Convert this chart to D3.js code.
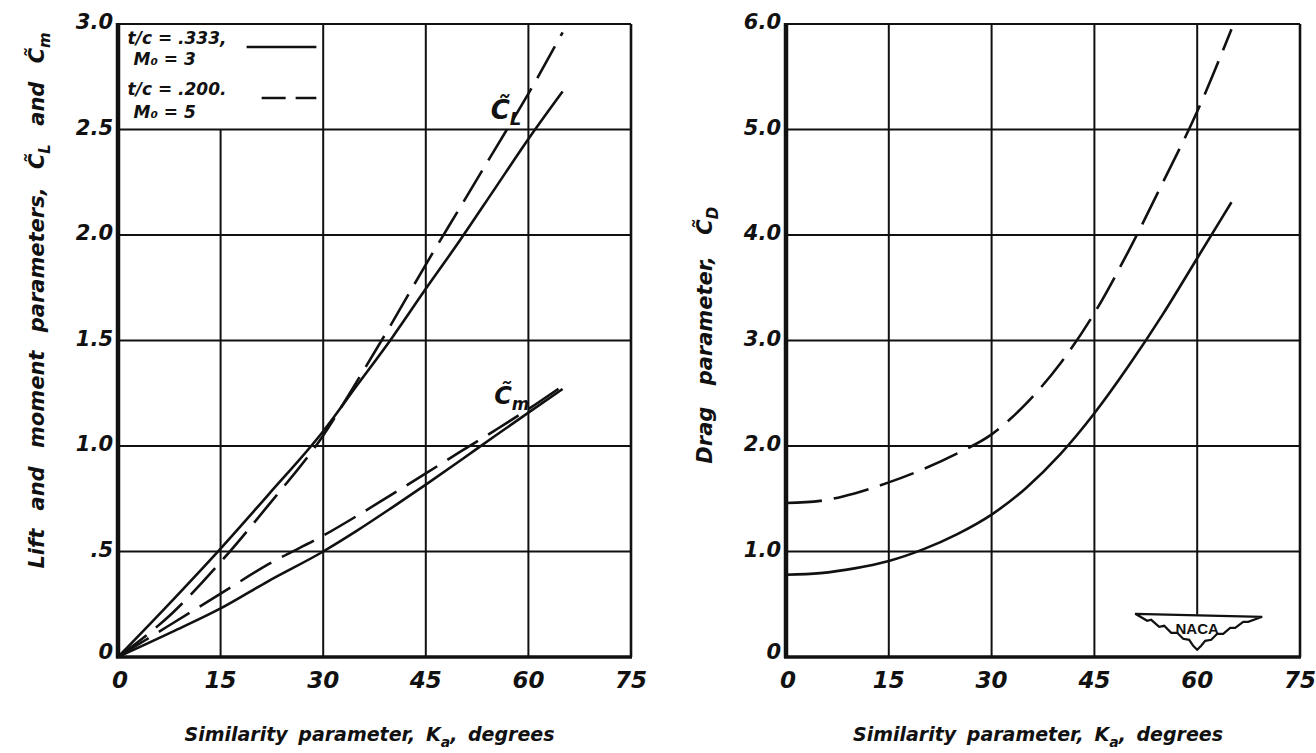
<!DOCTYPE html>
<html>
<head>
<meta charset="utf-8">
<script src="https://cdn.jsdelivr.net/npm/d3@7"></script>
<style>
  body { margin: 0; background: #fff; }
  text { font-family: "DejaVu Sans", sans-serif; font-style: italic; font-weight: bold; fill: #111; }
</style>
</head>
<body>
<div id="container"></div>
<script>
/* CONSTANTS AND GLOBALS */
const width = 1316,
  height = 753;

/* DATA */
const kTicks = [0, 15, 30, 45, 60, 75];
const kTickLabels = ["0", "15", "30", "45", "60", "75"];
const liftTicks = [0, 0.5, 1, 1.5, 2, 2.5, 3];
const liftTickLabels = ["0", ".5", "1.0", "1.5", "2.0", "2.5", "3.0"];
const dragTicks = [0, 1, 2, 3, 4, 5, 6];
const dragTickLabels = ["0", "1.0", "2.0", "3.0", "4.0", "5.0", "6.0"];

// lift / moment panel
const kLift = [0, 8, 15, 22, 30, 35, 40, 45, 50, 55, 60, 65];
const clSolid = [0, 0.27, 0.514, 0.77, 1.07, 1.29, 1.51, 1.745, 1.975, 2.215, 2.455, 2.68];
const clDashed = [0, 0.21, 0.45, 0.72, 1.05, 1.31, 1.58, 1.86, 2.13, 2.4, 2.67, 2.96];
const cmSolid = [0, 0.12, 0.23, 0.36, 0.5, 0.6, 0.707, 0.817, 0.93, 1.045, 1.158, 1.27];
const cmDashed = [0, 0.16, 0.30, 0.44, 0.575, 0.67, 0.77, 0.87, 0.972, 1.072, 1.175, 1.285];

// drag panel
const kDrag = [0, 5, 10, 15, 20, 25, 30, 35, 40, 45, 50, 55, 60, 65];
const cdSolid = [0.78, 0.795, 0.84, 0.91, 1.02, 1.165, 1.35, 1.6, 1.92, 2.31, 2.76, 3.25, 3.78, 4.31];
const cdDashed = [1.46, 1.48, 1.55, 1.655, 1.78, 1.93, 2.11, 2.4, 2.78, 3.26, 3.85, 4.5, 5.17, 5.95];

const legendRows = ["t/c = .333,", "M₀ = 3", "t/c = .200.", "M₀ = 5"];

const svg = d3.select("#container")
  .append("svg")
  .attr("width", width)
  .attr("height", height)
  .style("background-color", "#fff");

/* SCALES */
const xL = d3.scaleLinear().domain([0, 75]).range([118, 631]);
const yL = d3.scaleLinear().domain([0, 3]).range([657, 24]);
const xR = d3.scaleLinear().domain([0, 75]).range([786, 1300]);
const yR = d3.scaleLinear().domain([0, 6]).range([657, 24]);

const ink = "#111";

function gridAndFrame(x, y, yTicks, skipV) {
  const g = svg.append("g");
  // horizontal grid
  yTicks.slice(1, -1).forEach(t => {
    g.append("line")
      .attr("x1", x(0)).attr("x2", x(75))
      .attr("y1", y(t)).attr("y2", y(t))
      .attr("stroke", ink).attr("stroke-width", 2);
  });
  // vertical grid
  kTicks.slice(1, -1).forEach(t => {
    const top = skipV[t] !== undefined ? skipV[t] : y.domain()[1];
    const bot = skipV["b" + t] !== undefined ? skipV["b" + t] : 0;
    g.append("line")
      .attr("x1", x(t)).attr("x2", x(t))
      .attr("y1", y(bot)).attr("y2", y(top))
      .attr("stroke", ink).attr("stroke-width", 2);
  });
  const top = y.domain()[1];
  g.append("line").attr("x1", x(0)).attr("x2", x(75)).attr("y1", y(top)).attr("y2", y(top))
    .attr("stroke", ink).attr("stroke-width", 2.2);
  g.append("line").attr("x1", x(75)).attr("x2", x(75)).attr("y1", y(top)).attr("y2", y(0))
    .attr("stroke", ink).attr("stroke-width", 2.6);
  g.append("line").attr("x1", x(0) - 2).attr("x2", x(75) + 1).attr("y1", y(0)).attr("y2", y(0))
    .attr("stroke", ink).attr("stroke-width", 3.5);
  g.append("line").attr("x1", x(0)).attr("x2", x(0)).attr("y1", y(top) - 1).attr("y2", y(0) + 1)
    .attr("stroke", ink).attr("stroke-width", 4.5);
}

gridAndFrame(xL, yL, liftTicks, { 15: 2.5 });
gridAndFrame(xR, yR, dragTicks, { b60: 0.4 });

/* TICK LABELS */
function tickLabels(x, y, yTicks, yLabels) {
  kTicks.forEach((t, i) => {
    svg.append("text")
      .attr("x", x(t) + (i === 0 ? 2 : 0))
      .attr("y", y(0) + 31)
      .attr("text-anchor", "middle")
      .style("font-size", "23px")
      .text(kTickLabels[i]);
  });
  yTicks.forEach((t, i) => {
    svg.append("text")
      .attr("x", x(0) - 5)
      .attr("y", y(t) + (i === 0 ? 2 : 5))
      .attr("text-anchor", "end")
      .style("font-size", "21px")
      .text(yLabels[i]);
  });
}
tickLabels(xL, yL, liftTicks, liftTickLabels);
tickLabels(xR, yR, dragTicks, dragTickLabels);

/* CURVES */
function drawCurve(x, y, ks, vals, dashed) {
  const line = d3.line()
    .x((d, i) => x(ks[i]))
    .y(d => y(d))
    .curve(d3.curveMonotoneX);
  svg.append("path")
    .datum(vals)
    .attr("d", line)
    .attr("fill", "none")
    .attr("stroke", ink)
    .attr("stroke-width", 2.6)
    .attr("stroke-dasharray", dashed ? "36,12" : null);
}
drawCurve(xL, yL, kLift, clSolid, false);
drawCurve(xL, yL, kLift, clDashed, true);
drawCurve(xL, yL, kLift, cmSolid, false);
drawCurve(xL, yL, kLift, cmDashed, true);
drawCurve(xR, yR, kDrag, cdSolid, false);
drawCurve(xR, yR, kDrag, cdDashed, true);

/* CURVE LABELS */
function coefLabel(px, py, sub, size) {
  const t = svg.append("text")
    .attr("x", px).attr("y", py)
    .style("font-size", size + "px");
  t.append("tspan").text("C\u0303");
  t.append("tspan").attr("dy", 6).style("font-size", (size * 0.7) + "px").text(sub);
  return t;
}
coefLabel(xL(54.5), yL(2.55), "L", 26);
coefLabel(xL(55), yL(1.2), "m", 24);

/* LEGEND */
const legX = xL(1.4);
legendRows.forEach((r, i) => {
  const yy = [44, 65, 95, 118][i];
  svg.append("text")
    .attr("x", legX + (i % 2 === 1 ? 6 : 0))
    .attr("y", yy)
    .style("font-size", "17px")
    .text(r);
});
svg.append("line")
  .attr("x1", xL(18.8)).attr("x2", xL(29)).attr("y1", 47).attr("y2", 47)
  .attr("stroke", ink).attr("stroke-width", 2.4);
svg.append("line")
  .attr("x1", xL(21)).attr("x2", xL(29)).attr("y1", 98).attr("y2", 98)
  .attr("stroke", ink).attr("stroke-width", 2.4)
  .attr("stroke-dasharray", "24,10");

/* AXIS TITLES */
function xTitle(x) {
  const t = svg.append("text")
    .attr("x", (x(0) + x(75)) / 2 - 5)
    .attr("y", 741)
    .attr("text-anchor", "middle")
    .style("font-size", "19px")
    .style("word-spacing", "4px");
  t.append("tspan").text("Similarity parameter, K");
  t.append("tspan").attr("dy", 6).style("font-size", "14px").text("a");
  t.append("tspan").attr("dy", -6).text(", degrees");
}
xTitle(xL);
xTitle(xR);

const ly = svg.append("text")
  .attr("transform", `translate(44,${yL(1.69)}) rotate(-90)`)
  .attr("text-anchor", "middle")
  .style("font-size", "21px")
  .style("word-spacing", "11px");
ly.append("tspan").text("Lift and moment parameters, C\u0303");
ly.append("tspan").attr("dy", 6).style("font-size", "15px").text("L");
ly.append("tspan").attr("dy", -6).text(" and C\u0303");
ly.append("tspan").attr("dy", 6).style("font-size", "15px").text("m");

const ry = svg.append("text")
  .attr("transform", `translate(712,${yR(3.05)}) rotate(-90)`)
  .attr("text-anchor", "middle")
  .style("font-size", "21px")
  .style("word-spacing", "14px");
ry.append("tspan").text("Drag parameter, C\u0303");
ry.append("tspan").attr("dy", 6).style("font-size", "15px").text("D");

/* NACA LOGO */
const lx = xR(60), lt = yR(0.4);
const wing = [[-62, -1], [-50, 6], [-46, 5], [-38, 12], [-33, 11], [-26, 18], [-20, 18], [-14, 24], [-8, 25], [-4, 31], [0, 35],
  [4, 31], [8, 26], [14, 25], [20, 19], [26, 19], [33, 13], [38, 13], [46, 7], [51, 7], [65, 2]];
svg.append("path")
  .attr("d", d3.line()(wing.map(p => [lx + p[0], lt + p[1]])) + "Z")
  .attr("fill", "#fff")
  .attr("stroke", ink)
  .attr("stroke-width", 2.2);
svg.append("text")
  .attr("x", lx).attr("y", lt + 19)
  .attr("text-anchor", "middle")
  .style("font-style", "normal")
  .style("font-weight", "bold")
  .style("font-family", "Liberation Sans Narrow, Liberation Sans, sans-serif")
  .style("font-size", "15px")
  .text("NACA");
</script>
</body>
</html>
